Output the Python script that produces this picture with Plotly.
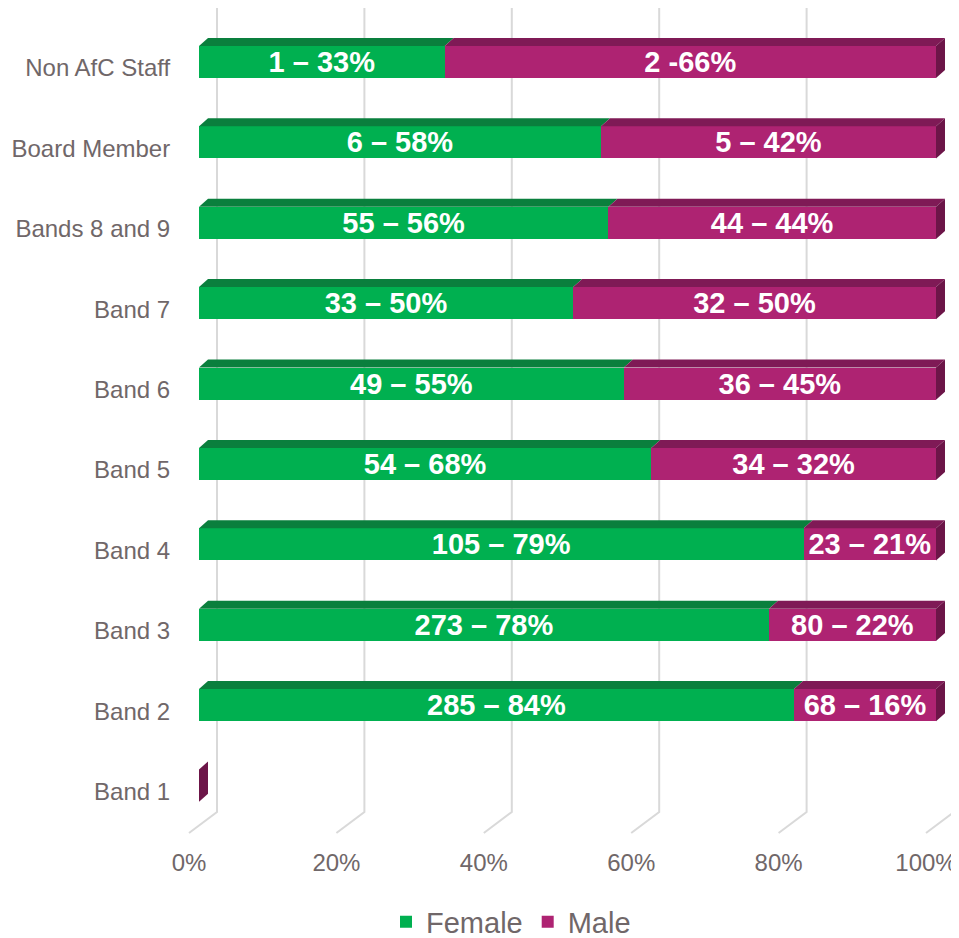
import plotly.graph_objects as go

categories = ["Band 1", "Band 2", "Band 3", "Band 4", "Band 5", "Band 6",
              "Band 7", "Bands 8 and 9", "Board Member", "Non AfC Staff"]
female = [0, 285, 273, 105, 54, 49, 33, 55, 6, 1]
male = [0, 68, 80, 23, 34, 36, 32, 44, 5, 2]
female_labels = ["", "285 – 84%", "273 – 78%", "105 – 79%", "54 – 68%", "49 – 55%",
                 "33 – 50%", "55 – 56%", "6 – 58%", "1 – 33%"]
male_labels = ["", "68 – 16%", "80 – 22%", "23 – 21%", "34 – 32%", "36 – 45%",
               "32 – 50%", "44 – 44%", "5 – 42%", "2 -66%"]
tick_values = [0, 20, 40, 60, 80, 100]
tick_labels = ["0%", "20%", "40%", "60%", "80%", "100%"]

GREEN, GREEN_TOP = "#00B050", "#0A7F3D"
MAROON, MAROON_TOP, MAROON_SIDE = "#AE2372", "#7F1A56", "#6C1548"
GREY = "#706769"
FONT = "Liberation Sans, Arial, sans-serif"

# page body has an 8px margin: figure coordinates = page coordinates - 8
OFF = 8
W, H = 959, 938
ML = 180 - OFF
BOTTOM = 838 - OFF
MB = H - BOTTOM
X0PX, XSCALE = 199, 7.37          # page px of 0 %, px per percent
Y0PX, YSCALE = 785.6, 80.4        # page px of first category centre, px per category
XR = [(ML + OFF - X0PX) / XSCALE, (W + OFF - X0PX) / XSCALE]
YR = [(Y0PX - (BOTTOM + OFF)) / YSCALE, (Y0PX - OFF) / YSCALE]
px_x = XSCALE
px_y = YSCALE

ypos = list(range(len(categories)))
BW = 0.4
DX = 9 / px_x
DY = 8 / px_y

fig = go.Figure()
for vals, labels, name, col in [(female, female_labels, "Female", GREEN),
                                (male, male_labels, "Male", MAROON)]:
    fig.add_trace(go.Bar(y=ypos, x=vals, orientation="h", name=name,
                         marker=dict(color=col, line=dict(width=0)), width=BW,
                         text=labels, textposition="inside", insidetextanchor="middle",
                         textangle=0, constraintext="none",
                         textfont=dict(color="white", size=29, family=FONT, weight="bold"),
                         hoverinfo="skip"))

shapes = []
# 3D top / side faces derived from the data
for v, f, m in zip(ypos, female, male):
    tot = f + m
    ytop = v + BW / 2
    ybot = v - BW / 2
    if tot > 0:
        pf = f / tot * 100
        for a, b, c in [(0, pf, GREEN_TOP), (pf, 100, MAROON_TOP)]:
            if b > a:
                shapes.append(dict(type="path", xref="x", yref="y", layer="above",
                                   path=f"M{a},{ytop} L{a+DX},{ytop+DY} L{b+DX},{ytop+DY} L{b},{ytop} Z",
                                   fillcolor=c, line=dict(width=0)))
        xe = 100
    else:
        xe = 0
    shapes.append(dict(type="path", xref="x", yref="y", layer="above",
                       path=f"M{xe},{ybot} L{xe},{ytop} L{xe+DX},{ytop+DY} L{xe+DX},{ybot+DY} Z",
                       fillcolor=MAROON_SIDE, line=dict(width=0)))

# 3D gridlines (back wall + floor)
back_off = 18 / px_x
front_off = -10 / px_x
y_top = YR[1]
y_floor_back = YR[0] + 26 / px_y
y_floor_front = YR[0] + 5 / px_y
for t in tick_values:
    xb = t + back_off
    xf = t + front_off
    shapes.append(dict(type="path", xref="x", yref="y", layer="below",
                       path=f"M{xb},{y_top} L{xb},{y_floor_back} L{xf},{y_floor_front}",
                       line=dict(color="#D9D9D9", width=2)))

fig.update_layout(
    width=W, height=H,
    barmode="stack", barnorm="percent",
    margin=dict(l=ML, r=0, t=0, b=MB, autoexpand=False),
    plot_bgcolor="white", paper_bgcolor="white",
    shapes=shapes,
    font=dict(family=FONT, color=GREY),
    xaxis=dict(range=XR, showgrid=False, zeroline=False, showline=False, automargin=False,
               tickvals=[t + front_off for t in tick_values], ticktext=tick_labels,
               ticks="outside", ticklen=3, tickcolor="rgba(0,0,0,0)",
               tickfont=dict(size=24, color=GREY, family=FONT)),
    yaxis=dict(range=YR, showgrid=False, zeroline=False, showline=False, automargin=False,
               tickvals=ypos, ticktext=categories, ticklabelshift=6,
               ticks="outside", ticklen=4, tickcolor="rgba(0,0,0,0)",
               tickfont=dict(size=24, color=GREY, family=FONT)),
    legend=dict(orientation="h", x=(511 - OFF - ML) / (W - ML), xanchor="center",
                y=-(922 - OFF - BOTTOM) / BOTTOM, yanchor="middle",
                font=dict(size=29, color=GREY, family=FONT), traceorder="normal"),
    showlegend=True,
)

fig.write_html("out.html")
